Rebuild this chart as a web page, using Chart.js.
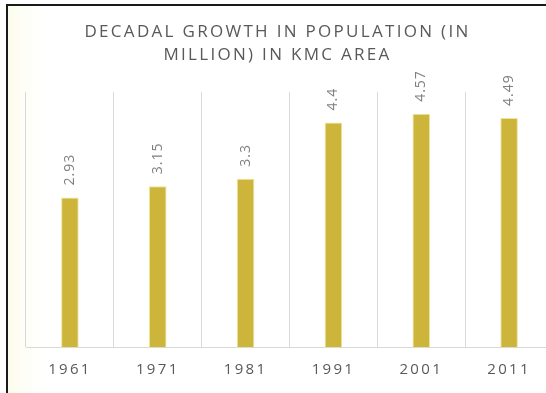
<!DOCTYPE html>
<html>
<head>
<meta charset="utf-8">
<script src="https://cdn.jsdelivr.net/npm/chart.js@4"></script>
<style>
  html, body { margin: 0; padding: 0; background: #fff; overflow: hidden; }
  #wrap {
    position: absolute; left: 6px; top: 4px;
    width: 538px; height: 387px; overflow: hidden;
    border-left: 2px solid #1a1a1a; border-top: 2px solid #1a1a1a;
    background: linear-gradient(to right, #fbfce8 0px, #fefef6 12px, #ffffff 40px);
  }
  /* chart is cropped on the right in the original picture */
  canvas { display: block; position: relative; left: -6px; }
</style>
</head>
<body>
<div id="wrap"><canvas id="myChart" width="560" height="387"></canvas></div>
<script>
const years = ["1961", "1971", "1981", "1991", "2001", "2011"];
const population = [2.93, 3.15, 3.3, 4.4, 4.57, 4.49];
const titleLines = ["DECADAL GROWTH IN POPULATION (IN", "MILLION) IN KMC AREA"];

// spaced-out lettering like the original (office style)
const spacing = {
  id: 'spacing',
  beforeDraw(chart) {
    chart.ctx.letterSpacing = '2.3px';
  }
};

// rotated value labels above each bar
const barValues = {
  id: 'barValues',
  afterDatasetsDraw(chart) {
    const { ctx } = chart;
    const meta = chart.getDatasetMeta(0);
    ctx.save();
    ctx.letterSpacing = '1px';
    ctx.font = '14px "Open Sans"';
    ctx.fillStyle = '#7f7f7f';
    ctx.textAlign = 'left';
    ctx.textBaseline = 'middle';
    meta.data.forEach((bar, i) => {
      ctx.save();
      ctx.translate(bar.x, bar.y - 12);
      ctx.rotate(-Math.PI / 2);
      ctx.fillText(String(population[i]), 0, 0);
      ctx.restore();
    });
    ctx.restore();
  }
};

const ctx = document.getElementById("myChart");

const myChart = new Chart(ctx, {
  type: "bar",
  plugins: [spacing, barValues],
  data: {
    labels: years,
    datasets: [
      {
        label: "Population",
        data: population,
        backgroundColor: "#CDB43A",
        borderColor: "#EFE39A",
        borderWidth: 1,
        categoryPercentage: 1,
        barPercentage: 0.2,
      },
    ],
  },
  options: {
    responsive: false,
    animation: false,
    layout: {
      padding: { left: 0, right: 9, top: 0, bottom: 0 }
    },
    plugins: {
      legend: { display: false },
      tooltip: { enabled: false },
      title: {
        display: true,
        text: titleLines,
        color: "#595959",
        font: { family: "Open Sans", size: 17, weight: "normal", lineHeight: 1.35 },
        padding: { top: 15, bottom: 25 },
      },
    },
    scales: {
      y: {
        min: 0,
        max: 5,
        ticks: { display: false },
        grid: { display: false },
        border: { display: false },
        afterFit(scale) {
          scale.width = 24;
        },
      },
      x: {
        offset: true,
        grid: {
          offset: true,
          color: "#d9d9d9",
          drawTicks: false,
        },
        border: { color: "#d9d9d9" },
        ticks: {
          padding: 14,
          color: "#595959",
          font: { family: "Open Sans", size: 15 },
        },
      },
    },
  },
});
</script>
</body>
</html>
